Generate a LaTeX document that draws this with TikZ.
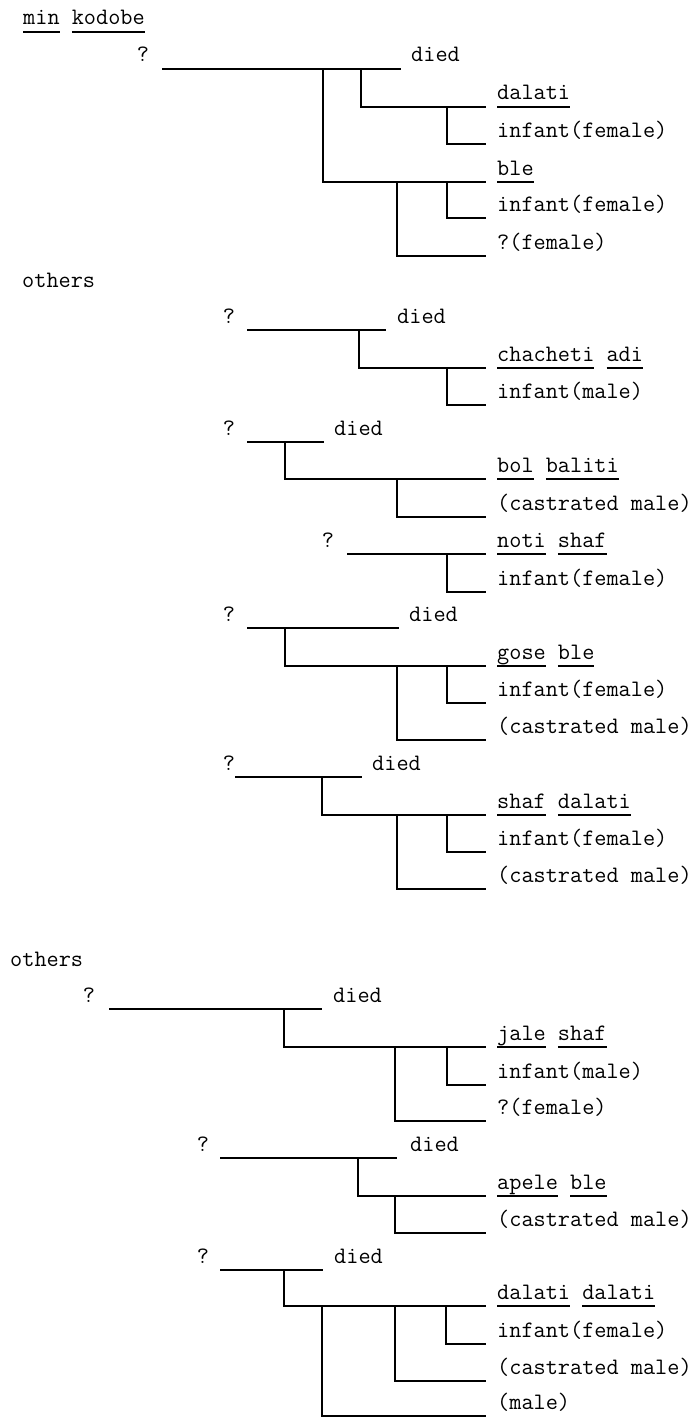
\documentclass[tikz,border=0pt]{standalone}
\newcommand\ulword[1]{\setbox0\hbox{#1}\rlap{\rule[-7.6pt]{\wd0}{1.2pt}}\box0\relax}
\tikzset{
  lbl/.style={anchor=base west, inner sep=0pt, font=\fontsize{23.6}{27}\ttfamily},
  qm/.style={anchor=base, inner sep=0pt, font=\fontsize{23.6}{27}\ttfamily},
  kin/.style={line width=1.5pt}
}
\begin{document}
\begin{tikzpicture}[x=1pt, y=-1pt]
\useasboundingbox (0,0) rectangle (698,1418);
\node[lbl] (g1title) at (23,25) {\ulword{min} \ulword{kodobe}};
\node[qm] (g1q) at (143,62) {?};
\coordinate (g1s) at (162,69);
\coordinate (g1t) at (401,69);
\node[lbl] (g1d) at (411,62) {died};
\draw[kin] (g1s) -- (g1t);
\coordinate (g1b1) at (323,69);
\coordinate (g1b2) at (361,69);
\coordinate (g1e1) at (486,107);
\node[lbl] (g1c1) at (497,100) {\ulword{dalati}};
\draw[kin] (g1b2) |- (g1e1);
\coordinate (g1b3) at (447,107);
\coordinate (g1e2) at (486,144);
\node[lbl] (g1c2) at (497,137) {infant(female)};
\draw[kin] (g1b3) |- (g1e2);
\coordinate (g1e3) at (486,182);
\node[lbl] (g1c3) at (497,175) {\ulword{ble}};
\draw[kin] (g1b1) |- (g1e3);
\coordinate (g1b4) at (447,182);
\coordinate (g1e4) at (486,218);
\node[lbl] (g1c4) at (497,211) {infant(female)};
\draw[kin] (g1b4) |- (g1e4);
\coordinate (g1b5) at (397,182);
\coordinate (g1e5) at (486,256);
\node[lbl] (g1c5) at (497,249) {?(female)};
\draw[kin] (g1b5) |- (g1e5);
\node[lbl] (oth1) at (22,287) {others};
\node[qm] (g2q) at (229,323) {?};
\coordinate (g2s) at (247,330);
\coordinate (g2t) at (386,330);
\node[lbl] (g2d) at (397,323) {died};
\draw[kin] (g2s) -- (g2t);
\coordinate (g2b1) at (359,330);
\coordinate (g2e1) at (486,368);
\node[lbl] (g2c1) at (497,361) {\ulword{chacheti} \ulword{adi}};
\draw[kin] (g2b1) |- (g2e1);
\coordinate (g2b2) at (447,368);
\coordinate (g2e2) at (486,405);
\node[lbl] (g2c2) at (497,398) {infant(male)};
\draw[kin] (g2b2) |- (g2e2);
\node[qm] (g3q) at (229,435) {?};
\coordinate (g3s) at (247,442);
\coordinate (g3t) at (324,442);
\node[lbl] (g3d) at (334,435) {died};
\draw[kin] (g3s) -- (g3t);
\coordinate (g3b1) at (285,442);
\coordinate (g3e1) at (486,479);
\node[lbl] (g3c1) at (497,472) {\ulword{bol} \ulword{baliti}};
\draw[kin] (g3b1) |- (g3e1);
\coordinate (g3b2) at (397,479);
\coordinate (g3e2) at (486,517);
\node[lbl] (g3c2) at (497,510) {(castrated male)};
\draw[kin] (g3b2) |- (g3e2);
\node[qm] (g4q) at (328,547) {?};
\coordinate (g4s) at (347,554);
\coordinate (g4t) at (486,554);
\node[lbl] (g4c0) at (497,547) {\ulword{noti} \ulword{shaf}};
\draw[kin] (g4s) -- (g4t);
\coordinate (g4b1) at (447,554);
\coordinate (g4e1) at (486,592);
\node[lbl] (g4c1) at (497,585) {infant(female)};
\draw[kin] (g4b1) |- (g4e1);
\node[qm] (g5q) at (229,621) {?};
\coordinate (g5s) at (247,628);
\coordinate (g5t) at (399,628);
\node[lbl] (g5d) at (409,621) {died};
\draw[kin] (g5s) -- (g5t);
\coordinate (g5b1) at (285,628);
\coordinate (g5e1) at (486,666);
\node[lbl] (g5c1) at (497,659) {\ulword{gose} \ulword{ble}};
\draw[kin] (g5b1) |- (g5e1);
\coordinate (g5b2) at (447,666);
\coordinate (g5e2) at (486,703);
\node[lbl] (g5c2) at (497,696) {infant(female)};
\draw[kin] (g5b2) |- (g5e2);
\coordinate (g5b3) at (397,666);
\coordinate (g5e3) at (486,740);
\node[lbl] (g5c3) at (497,733) {(castrated male)};
\draw[kin] (g5b3) |- (g5e3);
\node[qm] (g6q) at (229,770) {?};
\coordinate (g6s) at (235,777);
\coordinate (g6t) at (362,777);
\node[lbl] (g6d) at (372,770) {died};
\draw[kin] (g6s) -- (g6t);
\coordinate (g6b1) at (322,777);
\coordinate (g6e1) at (486,815);
\node[lbl] (g6c1) at (497,808) {\ulword{shaf} \ulword{dalati}};
\draw[kin] (g6b1) |- (g6e1);
\coordinate (g6b2) at (447,815);
\coordinate (g6e2) at (486,852);
\node[lbl] (g6c2) at (497,845) {infant(female)};
\draw[kin] (g6b2) |- (g6e2);
\coordinate (g6b3) at (397,815);
\coordinate (g6e3) at (486,889);
\node[lbl] (g6c3) at (497,882) {(castrated male)};
\draw[kin] (g6b3) |- (g6e3);
\node[lbl] (oth2) at (10,966) {others};
\node[qm] (g7q) at (89,1002) {?};
\coordinate (g7s) at (109,1009);
\coordinate (g7t) at (322,1009);
\node[lbl] (g7d) at (333,1002) {died};
\draw[kin] (g7s) -- (g7t);
\coordinate (g7b1) at (284,1009);
\coordinate (g7e1) at (486,1047);
\node[lbl] (g7c1) at (497,1040) {\ulword{jale} \ulword{shaf}};
\draw[kin] (g7b1) |- (g7e1);
\coordinate (g7b2) at (447,1047);
\coordinate (g7e2) at (486,1085);
\node[lbl] (g7c2) at (497,1078) {infant(male)};
\draw[kin] (g7b2) |- (g7e2);
\coordinate (g7b3) at (395,1047);
\coordinate (g7e3) at (486,1121);
\node[lbl] (g7c3) at (497,1114) {?(female)};
\draw[kin] (g7b3) |- (g7e3);
\node[qm] (g8q) at (203,1151) {?};
\coordinate (g8s) at (220,1158);
\coordinate (g8t) at (397,1158);
\node[lbl] (g8d) at (410,1151) {died};
\draw[kin] (g8s) -- (g8t);
\coordinate (g8b1) at (358,1158);
\coordinate (g8e1) at (486,1196);
\node[lbl] (g8c1) at (497,1189) {\ulword{apele} \ulword{ble}};
\draw[kin] (g8b1) |- (g8e1);
\coordinate (g8b2) at (395,1196);
\coordinate (g8e2) at (486,1233);
\node[lbl] (g8c2) at (497,1226) {(castrated male)};
\draw[kin] (g8b2) |- (g8e2);
\node[qm] (g9q) at (203,1263) {?};
\coordinate (g9s) at (220,1270);
\coordinate (g9t) at (323,1270);
\node[lbl] (g9d) at (334,1263) {died};
\draw[kin] (g9s) -- (g9t);
\coordinate (g9b1) at (284,1270);
\coordinate (g9e1) at (486,1306);
\node[lbl] (g9c1) at (497,1299) {\ulword{dalati} \ulword{dalati}};
\draw[kin] (g9b1) |- (g9e1);
\coordinate (g9b2) at (446,1306);
\coordinate (g9e2) at (486,1344);
\node[lbl] (g9c2) at (497,1337) {infant(female)};
\draw[kin] (g9b2) |- (g9e2);
\coordinate (g9b3) at (395,1306);
\coordinate (g9e3) at (486,1381);
\node[lbl] (g9c3) at (497,1374) {(castrated male)};
\draw[kin] (g9b3) |- (g9e3);
\coordinate (g9b4) at (322,1306);
\coordinate (g9e4) at (486,1416);
\node[lbl] (g9c4) at (497,1409) {(male)};
\draw[kin] (g9b4) |- (g9e4);
\end{tikzpicture}
\end{document}
